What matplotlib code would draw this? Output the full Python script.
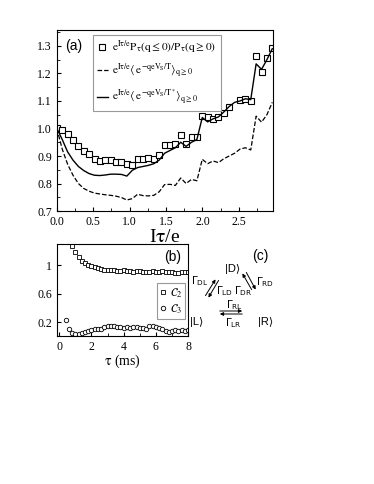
import numpy as np
import matplotlib
matplotlib.use("Agg")
import matplotlib.pyplot as plt

plt.rcParams['font.family'] = ['Liberation Serif', 'DejaVu Serif']
plt.rcParams['mathtext.fontset'] = 'stix'
plt.rcParams['mathtext.default'] = 'rm'

# panel (a): x = I*tau/e
x_a = np.arange(41) * 0.074
ratio = [1.000, 0.995, 0.980, 0.958, 0.937, 0.920, 0.906, 0.889, 0.882, 0.887,
         0.886, 0.880, 0.877, 0.872, 0.866, 0.889, 0.888, 0.893, 0.888, 0.905,
         0.940, 0.940, 0.945, 0.978, 0.942, 0.968, 0.968, 1.045, 1.040, 1.036,
         1.040, 1.056, 1.078, np.nan, 1.103, 1.108, 1.100, 1.265, 1.205, 1.257,
         1.292]
avg_T = [1.000, 0.925, 0.870, 0.830, 0.800, 0.782, 0.772, 0.765, 0.762, 0.759,
         0.757, 0.754, 0.749, 0.740, 0.745, 0.761, 0.756, 0.755, 0.757, 0.770,
         0.796, 0.797, 0.793, 0.820, 0.800, 0.815, 0.810, 0.888, 0.872, 0.882,
         0.876, 0.890, 0.900, 0.910, 0.925, 0.930, 0.922, 1.045, 1.023, 1.050,
         1.095]
avg_Tstar = [1.000, 0.960, 0.915, 0.885, 0.862, 0.847, 0.836, 0.830, 0.829, 0.831,
             0.834, 0.834, 0.833, 0.827, 0.848, 0.858, 0.862, 0.866, 0.872, 0.885,
             0.910, 0.920, 0.930, 0.950, 0.935, 0.950, 0.960, 1.040, 1.024, 1.035,
             1.042, 1.060, 1.080, 1.095, 1.100, 1.108, 1.105, 1.235, 1.215, 1.250,
             1.290]

# panel (b): tau in ms
tau_c2 = np.round(np.arange(0.8, 8.01, 0.2), 2)
c2 = [1.27, 1.19, 1.12, 1.06, 1.03, 1.01, 0.99, 0.97, 0.96, 0.95,
      0.94, 0.93, 0.94, 0.93, 0.92, 0.92, 0.93, 0.92, 0.92, 0.91,
      0.92, 0.92, 0.91, 0.91, 0.91, 0.92, 0.91, 0.91, 0.92, 0.91,
      0.90, 0.90, 0.89, 0.89, 0.91, 0.90, 0.90]
tau_c3 = np.round(np.arange(0.4, 8.01, 0.2), 2)
c3 = [0.23, 0.10, 0.05, 0.04, 0.04, 0.05, 0.065, 0.08, 0.09, 0.10,
      0.10, 0.11, 0.13, 0.145, 0.15, 0.145, 0.13, 0.14, 0.125, 0.13,
      0.125, 0.13, 0.14, 0.12, 0.125, 0.10, 0.145, 0.15, 0.14, 0.115,
      0.10, 0.085, 0.07, 0.075, 0.09, 0.085, 0.095, 0.08, 0.09]

fig = plt.figure(figsize=(3.74, 4.84), dpi=100)

# ---- (a)
ax = fig.add_axes([0.152, 0.564, 0.578, 0.374])
ax.plot(x_a, ratio, 's', ms=4.5, mfc='white', mec='black', mew=0.8,
        label=r'$e^{I\tau/e}P_\tau(q\leq0)/P_\tau(q\geq0)$')
ax.plot(x_a, avg_T, '--', color='black', lw=0.9,
        label=r'$e^{I\tau/e}\langle\, e^{-qeV_S/T}\rangle_{q\geq0}$')
ax.plot(x_a, avg_Tstar, '-', color='black', lw=1.0,
        label=r'$e^{I\tau/e}\langle\, e^{-qeV_S/T^*}\rangle_{q\geq0}$')
ax.set_xlim(0, 2.97)
ax.set_ylim(0.7, 1.358)
ax.set_xticks([0, 0.5, 1.0, 1.5, 2.0, 2.5])
ax.set_xticks(np.arange(0, 2.9, 0.25), minor=True)
ax.set_yticks(np.arange(0.7, 1.31, 0.1))
ax.set_yticks(np.arange(0.7, 1.36, 0.05), minor=True)
ax.tick_params(direction='in', labelsize=8.5, length=3)
ax.tick_params(which='minor', direction='in', length=2)
ax.tick_params(top=False, right=False)
ax.xaxis.set_major_formatter(matplotlib.ticker.FormatStrFormatter('%.1f'))
ax.yaxis.set_major_formatter(matplotlib.ticker.FormatStrFormatter('%.1f'))
ax.set_xlabel(r'I$\tau$/e', fontsize=14, labelpad=1)
ax.text(0.04, 0.95, '(a)', transform=ax.transAxes, fontsize=10,
        family='Liberation Sans', va='top')
leg = ax.legend(loc='upper left', bbox_to_anchor=(0.165, 0.975), fontsize=8.2,
                handlelength=1.0, handletextpad=0.4, labelspacing=0.55,
                borderpad=0.35, borderaxespad=0, fancybox=False,
                edgecolor='0.6', framealpha=1)
leg.get_frame().set_linewidth(0.8)

# ---- (b)
bx = fig.add_axes([0.152, 0.306, 0.351, 0.19])
bx.plot(tau_c2, c2, 's', ms=3.2, mfc='white', mec='black', mew=0.6,
        label=r'$\mathcal{C}_2$')
bx.plot(tau_c3, c3, 'o', ms=3.2, mfc='white', mec='black', mew=0.6,
        label=r'$\mathcal{C}_3$')
bx.set_xlim(-0.15, 8.0)
bx.set_ylim(0.01, 1.3)
bx.set_xticks([0, 2, 4, 6, 8])
bx.set_xticks(np.arange(0, 8.1, 1), minor=True)
bx.set_yticks([0.2, 0.6, 1.0])
bx.set_yticklabels(['0.2', '0.6', '1'])
bx.tick_params(direction='in', labelsize=8.5, length=3, top=False, right=False)
bx.tick_params(which='minor', direction='in', length=2, top=False, right=False)
bx.set_xlabel(r'$\tau$ (ms)', fontsize=10, labelpad=0)
bx.text(0.95, 0.93, '(b)', transform=bx.transAxes, fontsize=10,
        family='Liberation Sans', va='top', ha='right')
leg2 = bx.legend(loc='center right', bbox_to_anchor=(0.98, 0.38), fontsize=8.5,
                 handlelength=0.5, handletextpad=0.3, labelspacing=0.15,
                 borderpad=0.25, borderaxespad=0, fancybox=False,
                 edgecolor='0.6', framealpha=1)
leg2.get_frame().set_linewidth(0.8)

# ---- (c) rate diagram
def fx(px):
    return px / 374.0

def fy(py):
    return 1 - py / 484.0

sans = dict(family=['Liberation Sans', 'DejaVu Sans'], ha='center', va='center')
fig.text(fx(260), fy(256), '(c)', fontsize=10, **sans)
fig.text(fx(233), fy(269), '|D\u27e9', fontsize=8, **sans)
fig.text(fx(197), fy(322), '|L\u27e9', fontsize=8, **sans)
fig.text(fx(266), fy(322), '|R\u27e9', fontsize=8, **sans)

gammas = [(200, 281, 'DL'), (225, 291, 'LD'), (243, 291, 'DR'),
          (265, 282, 'RD'), (234, 305, 'RL'), (233, 323, 'LR')]
for gx, gy, sub in gammas:
    fig.text(fx(gx), fy(gy), r'$\Gamma_{\mathrm{%s}}$' % sub, fontsize=7.5,
             math_fontfamily='dejavusans', **sans)

arrow = dict(arrowstyle='-|>', color='black', lw=0.7, mutation_scale=5)
segs = [((204, 298), (217, 277)), ((220, 278), (207, 300)),
        ((253, 292), (241, 271)), ((245, 270), (257, 292)),
        ((217, 311), (245, 311)), ((245, 314), (217, 314))]
for (x0, y0), (x1, y1) in segs:
    fig.add_artist(matplotlib.patches.FancyArrowPatch(
        (fx(x0), fy(y0)), (fx(x1), fy(y1)), transform=fig.transFigure, **arrow))

fig.savefig('out.png', dpi=100)
